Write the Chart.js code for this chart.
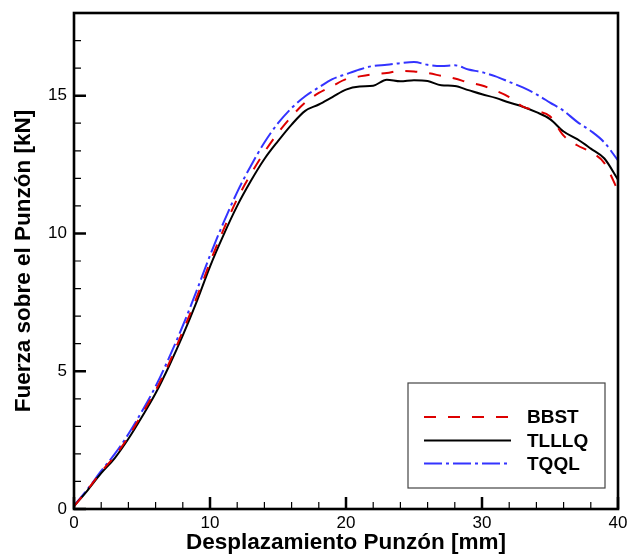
<!DOCTYPE html>
<html><head><meta charset="utf-8">
<script src="https://cdn.jsdelivr.net/npm/chart.js@4"></script>
<style>html,body{margin:0;padding:0;background:#fff}#wrap{width:628px;height:556px}canvas{display:block}</style>
</head><body><div id="wrap"><canvas id="c" width="628" height="556"></canvas></div>
<script>
// ---- data ----
const xValues = [0,1,2,3,4,5,6,7,8,9,10,11,12,13,14,15,16,17,18,19,20,21,22,23,24,25,26,27,28,29,30,31,32,33,34,35,36,37,38,39,40];
const bbst  = [0.10,0.70,1.35,1.92,2.62,3.45,4.30,5.30,6.45,7.65,8.95,10.15,11.25,12.15,12.95,13.65,14.25,14.75,15.10,15.35,15.60,15.70,15.78,15.82,15.90,15.88,15.82,15.72,15.62,15.48,15.37,15.18,14.95,14.60,14.45,14.25,13.55,13.20,12.95,12.55,11.55];
const tlllq = [0.10,0.68,1.30,1.85,2.55,3.35,4.20,5.20,6.30,7.50,8.80,9.95,11.00,11.90,12.70,13.35,13.95,14.45,14.68,14.95,15.22,15.33,15.36,15.58,15.52,15.56,15.53,15.38,15.35,15.20,15.05,14.92,14.75,14.60,14.40,14.15,13.70,13.42,13.08,12.72,11.95];
const tqql  = [0.12,0.72,1.38,2.00,2.72,3.55,4.45,5.50,6.65,7.90,9.20,10.40,11.50,12.45,13.30,14.00,14.55,14.98,15.30,15.60,15.78,15.95,16.08,16.12,16.18,16.22,16.12,16.08,16.10,15.95,15.85,15.70,15.50,15.30,15.05,14.75,14.45,14.05,13.72,13.30,12.65];
const seriesNames = ['BBST','TLLLQ','TQQL'];
const xTicks = [0,10,20,30,40];
const xMinorTicks = [2,4,6,8,12,14,16,18,22,24,26,28,32,34,36,38];
const yTicks = [0,5,10,15];
const yMinorTicks = [1,2,3,4,6,7,8,9,11,12,13,14,16,17];
const xTitle = 'Desplazamiento Punzón [mm]';
const yTitle = 'Fuerza sobre el Punzón [kN]';

const pts = arr => xValues.map((x,i)=>({x:x, y:arr[i]}));
const FONT = "'Liberation Sans', Arial, sans-serif";

const framePlugin = {
  id:'frame',
  afterDraw(chart){
    const {ctx, chartArea:a, scales:{x, y}} = chart;
    ctx.save();
    ctx.strokeStyle = '#000';
    ctx.lineWidth = 1.2;
    ctx.beginPath();
    xMinorTicks.forEach(v=>{const px=x.getPixelForValue(v); ctx.moveTo(px,a.bottom); ctx.lineTo(px,a.bottom-7);});
    yMinorTicks.forEach(v=>{const py=y.getPixelForValue(v); ctx.moveTo(a.left,py); ctx.lineTo(a.left+7,py);});
    ctx.stroke();
    ctx.lineWidth = 2.5;
    ctx.beginPath();
    xTicks.forEach(v=>{const px=x.getPixelForValue(v); ctx.moveTo(px,a.bottom); ctx.lineTo(px,a.bottom-12);});
    yTicks.forEach(v=>{const py=y.getPixelForValue(v); ctx.moveTo(a.left,py); ctx.lineTo(a.left+12,py);});
    ctx.stroke();
    ctx.lineWidth = 2.6;
    ctx.strokeRect(a.left, a.top, a.right-a.left, a.bottom-a.top);
    const bx=408, by=383, bw=197, bh=105;
    ctx.fillStyle='#fff';
    ctx.fillRect(bx,by,bw,bh);
    ctx.lineWidth=1.2; ctx.strokeStyle='#444';
    ctx.strokeRect(bx,by,bw,bh);
    const rows=[417,440.5,463.5];
    chart.data.datasets.forEach((ds,i)=>{
      ctx.save();
      ctx.strokeStyle=ds.borderColor; ctx.lineWidth=ds.borderWidth;
      ctx.setLineDash(ds.borderDash||[]);
      ctx.beginPath(); ctx.moveTo(424,rows[i]); ctx.lineTo(511,rows[i]); ctx.stroke();
      ctx.restore();
      ctx.fillStyle='#000';
      ctx.font="bold 19px "+FONT;
      ctx.textBaseline='middle'; ctx.textAlign='left';
      ctx.fillText(ds.label,527,rows[i]+1);
    });
    ctx.restore();
  }
};

new Chart(document.getElementById('c'), {
  type:'line',
  data:{datasets:[
    {label:seriesNames[0], data:pts(bbst), borderColor:'#dd0000', borderWidth:2, borderDash:[12,12], pointRadius:0, cubicInterpolationMode:'monotone', fill:false},
    {label:seriesNames[1], data:pts(tlllq), borderColor:'#000000', borderWidth:2, borderDash:[], pointRadius:0, cubicInterpolationMode:'monotone', fill:false},
    {label:seriesNames[2], data:pts(tqql), borderColor:'#3333ff', borderWidth:2, borderDash:[18,4,3,4], pointRadius:0, cubicInterpolationMode:'monotone', fill:false}
  ]},
  options:{
    responsive:false, animation:false, devicePixelRatio:1,
    layout:{padding:{top:13,right:10,left:0,bottom:0}},
    plugins:{legend:{display:false}, tooltip:{enabled:false}},
    scales:{
      x:{type:'linear', min:0, max:40,
        grid:{display:false, drawTicks:false}, border:{display:false},
        afterBuildTicks:s=>{s.ticks=xTicks.map(v=>({value:v}));},
        afterFit:s=>{s.height=47; s.paddingLeft=0; s.paddingRight=0;},
        ticks:{padding:4, color:'#000', font:{family:FONT, size:17}, maxRotation:0},
        title:{display:true, text:xTitle, color:'#000', font:{family:FONT, size:22.5, weight:'bold'}, padding:{top:0,bottom:0}}
      },
      y:{type:'linear', min:0, max:18,
        grid:{display:false, drawTicks:false}, border:{display:false},
        afterBuildTicks:s=>{s.ticks=yTicks.map(v=>({value:v}));},
        afterFit:s=>{s.width=74; s.paddingTop=0; s.paddingBottom=0;},
        ticks:{padding:7, color:'#000', font:{family:FONT, size:17}},
        title:{display:true, text:yTitle, color:'#000', font:{family:FONT, size:22.5, weight:'bold'}, padding:{top:10,bottom:0}}
      }
    }
  },
  plugins:[framePlugin]
});
</script></body></html>
